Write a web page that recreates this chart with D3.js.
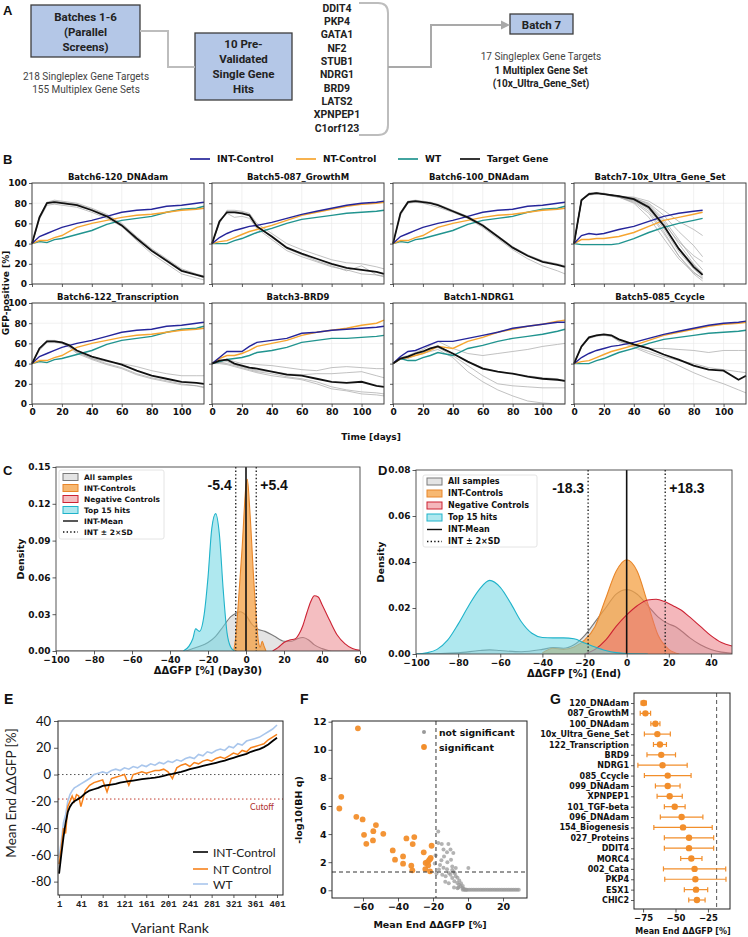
<!DOCTYPE html>
<html>
<head>
<meta charset="UTF-8">
<title>Screen overview</title>
<script src="https://d3js.org/d3.v7.min.js"></script>
<style>
  body { margin: 0; background: #fff; }
</style>
</head>
<body>
<svg id="fig" width="748" height="937"></svg>
<script>
// ---------------- panel A ----------------
var genes = ["DDIT4","PKP4","GATA1","NF2","STUB1","NDRG1","BRD9","LATS2","XPNPEP1","C1orf123"];

// ---------------- panel B ----------------
var bTitles = ["Batch6-120_DNAdam","Batch5-087_GrowthM","Batch6-100_DNAdam","Batch7-10x_Ultra_Gene_Set",
               "Batch6-122_Transcription","Batch3-BRD9","Batch1-NDRG1","Batch5-085_Ccycle"];
var bDays  = [0,5,10,15,20,25,30,40,50,60,70,80,90,100,110,115];
var b7Days = [0,5,10,15,20,25,30,40,50,60,70,80,86];

var int6 = [40,47,50,53,56,58,60,63,67,71,73,74,77,78,80,81];
var nt6  = [40,43,43,46,48,52,56,60,63,66,68,69,71,73,74,75];
var wt6  = [40,42,41,44,45,47,49,53,59,63,65,67,71,74,75,77];
var int5 = [40,46,50,53,55,57,58,61,65,69,72,75,78,80,81,82];
var nt5  = [40,42,43,46,49,52,54,58,63,68,71,74,77,79,80,81];
var wt5  = [40,40,40,43,45,48,51,55,60,64,66,68,70,71,72,73];
var int3 = [40,46,52,52,52,57,61,63,65,70,71,73,74,75,76,77];
var nt3  = [40,45,48,48,50,53,57,60,63,68,71,73,75,78,80,83];
var wt3  = [40,42,44,45,46,48,51,53,56,61,63,65,65,66,67,68];
var int1 = [40,47,52,53,56,59,62,62,65,68,71,75,77,79,81,81];
var nt1  = [40,45,46,48,50,53,57,55,62,66,71,74,77,79,82,83];
var wt1  = [40,45,43,43,46,48,51,48,55,58,62,65,67,69,72,74];
var int7 = [40,48,50,49,50,52,54,57,62,67,70,72,73];
var nt7  = [40,44,44,45,45,46,47,51,57,63,66,69,71];
var wt7  = [40,39,39,39,39,39,40,45,51,56,60,63,65];

var m120 = [40,66,80,81,80,79,78,73,67,58,45,33,23,13,9,7];
var r120 = [[40,64,78,79,78,77,76,71,65,57,43,30,20,10,6,4],
            [40,67,81,83,82,81,80,75,69,60,47,35,25,15,10,8],
            [40,65,80,82,81,80,79,74,68,59,46,34,24,14,9,6]];
var m087 = [40,62,71,71,70,68,57,47,36,30,25,20,16,14,12,10];
var r087 = [[40,60,73,73,72,70,60,50,40,34,29,24,21,20,17,15],
            [40,63,70,66,67,65,55,44,33,27,22,17,14,10,9,8],
            [40,61,72,72,71,69,58,46,35,29,23,18,13,18,9,7]];
var m100 = [40,70,81,82,81,80,78,72,66,58,47,36,28,22,19,17];
var r100 = [[40,68,80,81,80,78,76,71,65,56,45,34,25,18,13,10],
            [40,71,82,83,82,81,79,73,67,59,48,37,29,23,20,18]];
var m10x = [40,83,89,90,89,88,87,84,76,58,35,17,9];
var r10x = [[40,84,89,90,89,88,86,81,70,50,28,12,5],
            [40,83,90,90,89,88,87,83,74,55,32,15,7],
            [40,82,89,90,89,88,87,84,78,62,40,20,10],
            [40,84,89,90,89,87,86,85,80,68,52,38,27],
            [40,83,88,89,89,88,87,86,82,73,62,54,48],
            [40,82,89,90,89,88,86,82,72,52,28,10,3],
            [40,83,89,90,89,88,87,84,77,60,42,28,22],
            [40,84,90,90,90,88,86,80,66,45,25,11,6],
            [40,83,89,90,89,88,87,85,79,64,44,24,14],
            [40,82,89,90,89,87,86,83,75,57,36,19,11]];
var m122 = [40,55,62,62,61,58,53,47,43,39,33,28,25,22,21,20];
var r122 = [[40,53,61,62,60,57,51,45,42,40,37,33,30,28,28,28],
            [40,56,63,63,61,58,52,45,40,36,30,26,23,20,18,17],
            [40,55,62,61,60,56,50,44,39,35,29,25,22,19,18,16]];
var mBRD9 = [40,43,44,40,38,36,35,32,29,28,25,22,21,22,18,17];
var rBRD9 = [[40,42,44,42,40,40,39,38,36,34,33,36,37,36,35,35],
             [40,41,42,39,37,35,33,32,30,29,30,30,31,32,28,26],
             [40,40,39,37,35,33,31,28,26,24,20,15,13,10,9,8],
             [40,41,40,38,36,34,32,30,27,25,22,17,14,12,11,10]];
var mNDRG1 = [40,45,47,50,52,55,57,50,42,35,32,30,27,25,24,23];
var rNDRG1 = [[40,46,48,51,54,58,62,55,50,48,50,52,54,57,59,60],
              [40,44,45,48,50,52,54,46,32,22,14,8,3,1,0,0],
              [40,45,47,49,51,54,56,48,38,28,20,18,17,16,16,16],
              [40,45,46,50,52,55,58,50,42,36,32,30,28,26,25,22]];
var m085 = [40,57,66,68,69,68,64,59,55,49,44,38,34,33,24,28];
var r085 = [[40,56,65,67,68,67,64,58,55,55,54,53,51,53,53,53],
            [40,57,66,68,69,67,63,57,52,47,43,40,36,34,32,31],
            [40,56,65,68,68,67,62,56,50,45,38,31,25,20,14,11]];

// ---------------- panel C (Day30) ----------------
var cAllX = [-100,-32,-28,-24,-20,-16,-12,-8,-5,-3,0,3,6,10,15,20,24,27,30,33,36,40,45,60];
var cAllY = [0,0,0.002,0.004,0.007,0.012,0.02,0.028,0.031,0.032,0.029,0.022,0.018,0.016,0.012,0.008,0.008,0.01,0.011,0.009,0.005,0.002,0,0];
var cIntX = [-6.5,-5.5,-4,-2,0,0.7,2,4,5.5,6.5,7.5,8.5,9.5,10.5];
var cIntY = [0,0.01,0.04,0.085,0.135,0.14,0.115,0.06,0.025,0.008,0.003,0.008,0.004,0];
var cNegX = [14,17,20,23,26,28,30,32,34,36,38,40,44,48,52,56,60];
var cNegY = [0,0.003,0.007,0.009,0.01,0.014,0.021,0.031,0.04,0.045,0.044,0.038,0.025,0.013,0.006,0.002,0.0005];
var cTopX = [-33,-30,-28,-26.5,-24.5,-22,-20,-18,-16,-14,-12,-10,-8,-6];
var cTopY = [0,0.004,0.01,0.018,0.016,0.03,0.06,0.1,0.112,0.095,0.05,0.015,0.003,0];
var cSD = 5.4;

// ---------------- panel D (End) ----------------
var dAllX = [-100,-80,-70,-65,-60,-50,-40,-35,-30,-25,-20,-15,-10,-5,0,5,10,15,20,23,26,30,35,40,45,50];
var dAllY = [0,0.0005,0.0015,0.0018,0.0015,0.001,0.002,0.0028,0.0025,0.004,0.008,0.014,0.02,0.026,0.028,0.026,0.021,0.016,0.013,0.012,0.01,0.007,0.004,0.002,0.0008,0.0003];
var dIntX = [-40,-35,-30,-25,-20,-15,-10,-5,0,5,10,15,20,25];
var dIntY = [0.0005,0.0025,0.002,0.003,0.006,0.012,0.024,0.036,0.041,0.036,0.022,0.008,0.002,0];
var dNegX = [-20,-15,-10,-5,0,5,10,14,18,22,26,30,35,40,45,50];
var dNegY = [0,0.002,0.006,0.012,0.017,0.021,0.0235,0.0238,0.0228,0.021,0.019,0.016,0.012,0.008,0.005,0.0035];
var dTopX = [-100,-95,-90,-85,-80,-75,-70,-65,-60,-55,-50,-45,-40,-35,-30,-25,-20,-15,-10,-5,0,10];
var dTopY = [0,0.0005,0.002,0.006,0.013,0.021,0.028,0.032,0.029,0.022,0.014,0.009,0.0072,0.007,0.007,0.0066,0.0048,0.003,0.0015,0.0006,0.0002,0];
var dSD = 18.3;

// ---------------- panel E ----------------
var eRank = [1,5,9,13,17,21,25,29,33,37,41,49,57,65,73,81,89,97,105,113,121,129,137,145,153,161,169,177,185,193,
             201,209,217,225,233,241,249,257,265,273,281,289,297,305,313,321,329,337,345,353,361,369,377,385,393,401];
var eInt = [-74,-60,-47,-36,-28,-24,-21.5,-20,-19,-18,-17,-14,-12,-11,-10,-8.5,-8,-7.5,-7,-6,-5.5,
            -5,-4.5,-4,-3.5,-3,-2.7,-2.3,-1.8,-1,0,0.5,1.3,2,3,4,4.8,5.6,6.4,7.2,8,
            8.8,9.6,10.4,11.5,12.5,13.5,14.5,15.5,17,18,19,20.5,22.5,25,27.5];
var eNt  = [-67,-55,-40,-44,-24,-20,-16,-20,-15,-16,-24,-12,-8,-6,-5,-4,-13,-3,-2,-1,0,
            -8,0,1,2,1,2,3,3,4,2,-3,5,7,8,6,9,8,10,11,10,
            12,13,12,14,16,15,18,17,20,21,22,23,26,28,30];
var eWt  = [-62,-50,-36,-30,-20,-15,-12,-10,-9,-8,-7,-5,-3,0,1,2,1,3,4,3,5,
            4,6,5,7,6,8,7,9,8,10,9,11,10,12,13,12,15,14,17,16,
            18,19,18,21,20,23,22,25,26,27,28,30,32,34,37];
var eCutoff = -18.3;

// ---------------- panel F ----------------
var fSigX = [-62.9,-72.4,-73.5,-63.8,-60.2,-59.4,-58.1,-54.1,-54.3,-52.6,-48.4,-43.0,-41.7,-37.1,-37.1,
             -35.2,-30.7,-31.6,-32.4,-31.8,-25.3,-24.4,-24.2,-23.2,-22.3,-21.7,-21.3,-20.8,-21.7,-22.7];
var fSigY = [11.53,6.65,5.82,5.23,5.04,3.95,3.31,4.21,3.55,4.64,4.02,2.84,2.18,2.41,1.89,
             3.69,3.79,3.29,1.75,1.42,2.70,1.51,1.94,2.01,2.13,2.22,2.30,3.17,1.35,1.78];
var fNsX = [-17,-17,-15,-11.2,-8.4,-15.2,-13.7,-11.8,-9.7,-9,-7,0.2,-16.6,-14.7,-12.8,-10.9,-9,-7.8,-7,-6.1,
            -5.1,-4.2,-3.2,-2.3,-18,-16,-14,-12,-10,-13,-11,-8,-6,-5,-4,-3,-12,-10,-14,-8,-6,-18.5,-19,-9,-7.5,-5.5,-2,-1,
            -3,-2,-1,0,1,2,3,4,5,6,7,8,9,10,11,12,13,14,15,16,17,18,19,20,21,22,23,24,25,26,27,28,29];
var fNsY = [4.19,3.36,3.3,3.29,2.65,2.13,2.4,1.99,2.18,1.7,1.59,1.59,1.47,1.11,1.0,1.23,0.88,0.64,1.0,0.52,
            0.4,0.28,0.17,0.09,1.2,1.8,1.6,1.5,1.1,0.6,0.5,1.3,0.9,0.7,0.5,0.3,2.7,2.9,2.9,0.2,0.15,2.5,1.9,1.45,1.2,0.2,0.05,0.04,
            0.03,0.03,0.03,0.03,0.03,0.03,0.03,0.03,0.03,0.03,0.03,0.03,0.03,0.03,0.03,0.03,0.03,0.03,0.03,0.03,0.03,0.03,0.03,0.03,0.03,0.03,0.03,0.03,0.03,0.03,0.03,0.03,0.03];
var fQline = 1.3;

// ---------------- panel G ----------------
var gLabels = ["120_DNAdam","087_GrowthM","100_DNAdam","10x_Ultra_Gene_Set","122_Transcription","BRD9","NDRG1",
               "085_Ccycle","099_DNAdam","XPNPEP1","101_TGF-beta","096_DNAdam","154_Biogenesis","027_Proteins",
               "DDIT4","MORC4","002_Cata","PKP4","ESX1","CHIC2"];
var gMean = [-74.5,-73.2,-65.5,-64,-62,-61,-60,-56,-56,-54.5,-50.6,-45.3,-44.2,-39.6,-39.6,-37.8,-35.3,-34.7,-34.2,-33.5];
var gErr  = [2,4,3.5,10,5,11,19,18,9.5,9.7,8,16.4,22.5,19,19,8.2,24,23.6,9,6.3];

// ======================================================
var svg = d3.select("#fig");
var DJ = "DejaVu Sans";

function txt(g, x, y, s, o) {
  o = o || {};
  return g.append("text").attr("x", x).attr("y", y).text(s)
    .attr("font-size", o.size || 9)
    .attr("font-weight", o.weight || "bold")
    .attr("font-family", o.family || DJ)
    .attr("text-anchor", o.anchor || "start")
    .attr("fill", o.fill || "#111")
    .attr("dominant-baseline", o.base || "auto");
}
function vtxt(g, x, y, s, o) {
  return txt(g, 0, 0, s, o).attr("text-anchor", "middle")
    .attr("transform", "translate(" + x + "," + y + ") rotate(-90)");
}
function styleAxis(sel, size, fam, weight, fill) {
  sel.select(".domain").remove();
  sel.selectAll("line").attr("stroke", "#333").attr("stroke-width", 0.8);
  sel.selectAll("text").attr("font-size", size).attr("font-family", fam || DJ)
    .attr("font-weight", weight || "bold").attr("fill", fill || "#111");
}
function frame(g, l, t, r, b, col, w) {
  g.append("rect").attr("x", l).attr("y", t).attr("width", r - l).attr("height", b - t)
    .attr("fill", "none").attr("stroke", col || "#333").attr("stroke-width", w || 0.9);
}

// ---------------- A ----------------
var gA = svg.append("g");
txt(gA, 3, 15, "A", {size: 13, family: "Liberation Sans"});
var RB = "Roboto";
function box(x, y, w, h) {
  gA.append("rect").attr("x", x).attr("y", y).attr("width", w).attr("height", h)
    .attr("fill", "#b4c7e7").attr("stroke", "#3d3d3d").attr("stroke-width", 1.3);
}
function aLabel(x, y, s, size, weight, fill) {
  return txt(gA, x, y, s, {size: size, family: RB, weight: weight, anchor: "middle", base: "central", fill: fill || "#222"});
}
box(31, 5, 109, 52);
box(195, 33, 97, 67);
box(510, 14, 63, 20);
["Batches 1-6", "(Parallel", "Screens)"].forEach(function(s, i) { aLabel(85.5, 17 + i * 15, s, 11.5, "bold"); });
["10 Pre-", "Validated", "Single Gene", "Hits"].forEach(function(s, i) { aLabel(243.5, 44 + i * 15, s, 11.5, "bold"); });
aLabel(541.5, 24.5, "Batch 7", 11.5, "bold");
aLabel(86, 76, "218 Singleplex Gene Targets", 10, "normal", "#444");
aLabel(86, 89, "155 Multiplex Gene Sets", 10, "normal", "#444");
aLabel(541, 56, "17 Singleplex Gene Targets", 10, "normal", "#444");
aLabel(541, 70, "1 Multiplex Gene Set", 10, "bold");
aLabel(541, 83, "(10x_Ultra_Gene_Set)", 10, "bold");
var gy = d3.scalePoint().domain(genes).range([8, 128]);
genes.forEach(function(s) { aLabel(337, gy(s), s, 10.5, "bold"); });
var conn = "#bdbdbd";
gA.append("path").attr("d", "M140,31 H168 V67 H195").attr("fill", "none").attr("stroke", conn).attr("stroke-width", 2);
gA.append("path").attr("d", "M359,3 H378 Q388,3 388,13 V125 Q388,135 378,135 H359")
  .attr("fill", "none").attr("stroke", conn).attr("stroke-width", 2);
gA.append("path").attr("d", "M388,67 H431 V25 H503").attr("fill", "none").attr("stroke", "#a9a9a9").attr("stroke-width", 2);
gA.append("path").attr("d", "M510,25 L501,20.5 L501,29.5 Z").attr("fill", "#a9a9a9");

// ---------------- B ----------------
var gB = svg.append("g");
txt(gB, 3, 164, "B", {size: 13, family: "Liberation Sans"});
var colInt = "#25259a", colNt = "#f6a530", colWt = "#21948f";
var bLeg = [["INT-Control", colInt, 190], ["NT-Control", colNt, 296], ["WT", colWt, 398], ["Target Gene", "#111", 460]];
bLeg.forEach(function(l) {
  gB.append("line").attr("x1", l[2]).attr("x2", l[2] + 20).attr("y1", 159).attr("y2", 159)
    .attr("stroke", l[1]).attr("stroke-width", 1.7);
  txt(gB, l[2] + 27, 159, l[0], {size: 9, base: "central"});
});
var bPanels = [
  {d: bDays,  c: [int6, nt6, wt6], m: m120,   r: r120},
  {d: bDays,  c: [int5, nt5, wt5], m: m087,   r: r087},
  {d: bDays,  c: [int6, nt6, wt6], m: m100,   r: r100},
  {d: b7Days, c: [int7, nt7, wt7], m: m10x,   r: r10x},
  {d: bDays,  c: [int6, nt6, wt6], m: m122,   r: r122},
  {d: bDays,  c: [int3, nt3, wt3], m: mBRD9,  r: rBRD9},
  {d: bDays,  c: [int1, nt1, wt1], m: mNDRG1, r: rNDRG1},
  {d: bDays,  c: [int5, nt5, wt5], m: m085,   r: r085}
];
var bCols = [32, 212, 393, 574], bRows = [183, 303], bW = 172, bH = 101;
var bTicks = [0, 20, 40, 60, 80, 100];
bPanels.forEach(function(p, i) {
  var col = i % 4, row = Math.floor(i / 4);
  var l = bCols[col], t = bRows[row];
  var x = d3.scaleLinear().domain([0, 115]).range([l, l + bW]);
  var y = d3.scaleLinear().domain([0, 100]).range([t + bH, t]);
  var g = gB.append("g");
  g.selectAll(".gx").data(bTicks).enter().append("line")
    .attr("x1", d => x(d)).attr("x2", d => x(d)).attr("y1", t).attr("y2", t + bH)
    .attr("stroke", "#e8e8e8").attr("stroke-width", 0.6);
  g.selectAll(".gy").data(bTicks).enter().append("line")
    .attr("x1", l).attr("x2", l + bW).attr("y1", d => y(d)).attr("y2", d => y(d))
    .attr("stroke", "#e8e8e8").attr("stroke-width", 0.6);
  var line = d3.line().x((v, j) => x(p.d[j])).y(v => y(v));
  p.r.forEach(function(s) {
    g.append("path").attr("d", line(s)).attr("fill", "none").attr("stroke", "#9e9e9e")
      .attr("stroke-width", 0.8).attr("stroke-opacity", 0.8);
  });
  [colWt, colNt, colInt].forEach(function(c, k) {
    g.append("path").attr("d", line(p.c[2 - k])).attr("fill", "none").attr("stroke", c).attr("stroke-width", 1.4);
  });
  g.append("path").attr("d", line(p.m)).attr("fill", "none").attr("stroke", "#111").attr("stroke-width", 1.8);
  frame(g, l, t, l + bW, t + bH, "#444", 1);
  var ax = g.append("g").attr("transform", "translate(0," + (t + bH) + ")")
    .call(d3.axisBottom(x).tickValues(bTicks).tickSize(3).tickPadding(2)
      .tickFormat(row === 1 ? d3.format("d") : ""));
  styleAxis(ax, 9);
  var ay = g.append("g").attr("transform", "translate(" + l + ",0)")
    .call(d3.axisLeft(y).tickValues(bTicks).tickSize(3).tickPadding(2)
      .tickFormat(col === 0 ? d3.format("d") : ""));
  styleAxis(ay, 9);
  txt(g, l + bW / 2, t - 3.5, bTitles[i], {size: 8.5, anchor: "middle"});
});
vtxt(gB, 9, 293, "GFP-positive [%]", {size: 9});
txt(gB, 371, 440, "Time [days]", {size: 9, anchor: "middle"});

// ---------------- C & D ----------------
function densityPanel(o) {
  var g = svg.append("g");
  var x = d3.scaleLinear().domain(o.xDomain).range([o.l, o.r]);
  var y = d3.scaleLinear().domain([0, o.yMax]).range([o.b, o.t]);
  g.append("clipPath").attr("id", "clip" + o.id).append("rect")
    .attr("x", o.l).attr("y", o.t).attr("width", o.r - o.l).attr("height", o.b - o.t);
  var body = g.append("g").attr("clip-path", "url(#clip" + o.id + ")");
  var area = d3.area().curve(d3.curveMonotoneX).x(d => x(d[0])).y0(y(0)).y1(d => y(d[1]));
  var line = d3.line().curve(d3.curveMonotoneX).x(d => x(d[0])).y(d => y(d[1]));
  o.series.forEach(function(s) {
    var pts = d3.zip(s.x, s.y);
    body.append("path").attr("d", area(pts)).attr("fill", s.fill).attr("fill-opacity", s.op);
    body.append("path").attr("d", line(pts)).attr("fill", "none").attr("stroke", s.stroke).attr("stroke-width", 1.1);
  });
  g.append("line").attr("x1", x(0)).attr("x2", x(0)).attr("y1", o.t).attr("y2", o.b)
    .attr("stroke", "#111").attr("stroke-width", 1.6);
  [-o.sd, o.sd].forEach(function(v) {
    g.append("line").attr("x1", x(v)).attr("x2", x(v)).attr("y1", o.t).attr("y2", o.b)
      .attr("stroke", "#222").attr("stroke-width", 1.4).attr("stroke-dasharray", "1.4,2.2");
  });
  txt(g, x(-o.sd) - 4, o.labY, "-" + o.sd, {size: 14, family: "Liberation Sans", weight: "bold", anchor: "end", base: "central", fill: "#111"});
  txt(g, x(o.sd) + 4, o.labY, "+" + o.sd, {size: 14, family: "Liberation Sans", weight: "bold", base: "central", fill: "#111"});
  frame(g, o.l, o.t, o.r, o.b, "#444", 0.9);
  var ax = g.append("g").attr("transform", "translate(0," + o.b + ")")
    .call(d3.axisBottom(x).tickValues(o.xTicks).tickSize(3.5).tickPadding(2).tickFormat(d3.format("d")));
  styleAxis(ax, 9);
  var ay = g.append("g").attr("transform", "translate(" + o.l + ",0)")
    .call(d3.axisLeft(y).tickValues(o.yTicks).tickSize(3.5).tickPadding(2).tickFormat(d3.format(".2f")));
  styleAxis(ay, 9);
  txt(g, (o.l + o.r) / 2, o.b + 23, o.xLabel, {size: 10, anchor: "middle"});
  vtxt(g, o.l - 32, (o.t + o.b) / 2, "Density", {size: 9.5});
  // legend
  var lg = o.leg;
  g.append("rect").attr("x", lg.x).attr("y", lg.y).attr("width", lg.w).attr("height", lg.h).attr("rx", 2)
    .attr("fill", "#fff").attr("fill-opacity", 0.85).attr("stroke", "#ddd").attr("stroke-width", 0.8);
  var items = o.series.map(function(s) { return {name: s.name, s: s}; })
    .concat([{name: "INT-Mean", line: ""}, {name: "INT \u00b1 2\u00d7SD", line: "1.4,2.2"}]);
  items.forEach(function(it, k) {
    var yy = lg.y + lg.r0 + k * lg.dy;
    if (it.s) {
      g.append("rect").attr("x", lg.x + 4).attr("y", yy - 3.5).attr("width", 15).attr("height", 7)
        .attr("fill", it.s.fill).attr("fill-opacity", it.s.op).attr("stroke", it.s.stroke).attr("stroke-width", 1);
    } else {
      g.append("line").attr("x1", lg.x + 4).attr("x2", lg.x + 19).attr("y1", yy).attr("y2", yy)
        .attr("stroke", "#111").attr("stroke-width", 1.4).attr("stroke-dasharray", it.line);
    }
    txt(g, lg.x + 25, yy, it.name, {size: lg.fs, base: "central"});
  });
}
function ser(name, xs, ys, fill, op, stroke) {
  return {name: name, x: xs, y: ys, fill: fill, op: op, stroke: stroke};
}
txt(svg, 3, 475, "C", {size: 13, family: "Liberation Sans"});
densityPanel({
  id: "C", l: 56, r: 360, t: 467, b: 651, xDomain: [-100, 60], yMax: 0.15,
  xTicks: [-100, -80, -60, -40, -20, 0, 20, 40, 60], yTicks: [0, 0.03, 0.06, 0.09, 0.12, 0.15],
  sd: cSD, labY: 485, xLabel: "\u0394\u0394GFP [%] (Day30)",
  series: [
    ser("All samples", cAllX, cAllY, "#c9c9c9", 0.5, "#7a7a7a"),
    ser("INT-Controls", cIntX, cIntY, "#f4a043", 0.75, "#e8862a"),
    ser("Negative Controls", cNegX, cNegY, "#ea7d84", 0.5, "#cc2233"),
    ser("Top 15 hits", cTopX, cTopY, "#6dd6e2", 0.55, "#1fb3ca")
  ],
  leg: {x: 59, y: 470, w: 105, h: 69, r0: 7, dy: 11, fs: 7.5}
});
txt(svg, 378, 475, "D", {size: 13, family: "Liberation Sans"});
densityPanel({
  id: "D", l: 416, r: 732, t: 470, b: 654, xDomain: [-100, 50], yMax: 0.08,
  xTicks: [-100, -80, -60, -40, -20, 0, 20, 40], yTicks: [0, 0.02, 0.04, 0.06, 0.08],
  sd: dSD, labY: 488, xLabel: "\u0394\u0394GFP [%] (End)",
  series: [
    ser("All samples", dAllX, dAllY, "#c9c9c9", 0.5, "#7a7a7a"),
    ser("INT-Controls", dIntX, dIntY, "#f4a043", 0.75, "#e8862a"),
    ser("Negative Controls", dNegX, dNegY, "#ea6f78", 0.5, "#cc2233"),
    ser("Top 15 hits", dTopX, dTopY, "#6dd6e2", 0.55, "#1fb3ca")
  ],
  leg: {x: 423, y: 475, w: 114, h: 72, r0: 6.5, dy: 12, fs: 8}
});

// ---------------- E ----------------
var gE = svg.append("g");
txt(gE, 4, 704, "E", {size: 14, family: "Liberation Sans"});
var ex = d3.scaleLinear().domain([-1, 412]).range([58, 283]);
var ey = d3.scaleLinear().domain([-90, 40]).range([895, 721]);
[[0, "#555"], [eCutoff, "#c0392b"]].forEach(function(h) {
  gE.append("line").attr("x1", ex(-1)).attr("x2", ex(412)).attr("y1", ey(h[0])).attr("y2", ey(h[0]))
    .attr("stroke", h[1]).attr("stroke-width", 1).attr("stroke-dasharray", "1.5,2.5");
});
txt(gE, 262, 810, "Cutoff", {size: 8.5, family: "Lato", weight: "normal", anchor: "middle", fill: "#b03030"});
var eLine = d3.line().x((v, j) => ex(eRank[j])).y(v => ey(v));
gE.append("path").attr("d", eLine(eWt)).attr("fill", "none").attr("stroke", "#a9c6ec").attr("stroke-width", 1.6);
gE.append("path").attr("d", eLine(eNt)).attr("fill", "none").attr("stroke", "#f7821c").attr("stroke-width", 1.5);
gE.append("path").attr("d", eLine(eInt)).attr("fill", "none").attr("stroke", "#000").attr("stroke-width", 1.8);
frame(gE, 58, 721, 283, 895, "#222", 1);
var eax = gE.append("g").attr("transform", "translate(0,895)")
  .call(d3.axisBottom(ex).tickValues([1, 41, 81, 121, 161, 201, 241, 281, 321, 361, 401]).tickSize(3).tickPadding(3));
styleAxis(eax, 9, "Liberation Mono", "bold", "#222");
var eay = gE.append("g").attr("transform", "translate(58,0)")
  .call(d3.axisLeft(ey).tickValues([40, 20, 0, -20, -40, -60, -80]).tickSize(4).tickPadding(3).tickFormat(d => String(d)));
styleAxis(eay, 13, "Lato", "normal", "#111");
vtxt(gE, 16, 793, "Mean End \u0394\u0394GFP [%]", {size: 13.5, family: "Lato", weight: "normal", fill: "#222"});
txt(gE, 170, 933, "Variant Rank", {size: 14, family: "Lato", weight: "normal", anchor: "middle", fill: "#222"});
[["INT-Control", "#000", 852], ["NT Control", "#f7821c", 869], ["WT", "#a9c6ec", 884]].forEach(function(l) {
  gE.append("line").attr("x1", 193).attr("x2", 208).attr("y1", l[2]).attr("y2", l[2]).attr("stroke", l[1]).attr("stroke-width", 1.6);
  txt(gE, 213, l[2], l[0], {size: 12, family: "Lato", weight: "normal", base: "central", fill: "#222"});
});

// ---------------- F ----------------
var gF = svg.append("g");
txt(gF, 300, 704, "F", {size: 14, family: "Liberation Sans"});
var fx = d3.scaleLinear().domain([-77.7, 33.7]).range([332, 527]);
var fy = d3.scaleLinear().domain([-0.55, 12.05]).range([898, 721]);
gF.selectAll(".ns").data(d3.zip(fNsX, fNsY)).enter().append("circle")
  .attr("cx", d => fx(d[0])).attr("cy", d => fy(d[1])).attr("r", 2)
  .attr("fill", "#999").attr("fill-opacity", 0.75);
gF.selectAll(".sg").data(d3.zip(fSigX, fSigY)).enter().append("circle")
  .attr("cx", d => fx(d[0])).attr("cy", d => fy(d[1])).attr("r", 2.9)
  .attr("fill", "#f28e2b").attr("fill-opacity", 0.95);
gF.append("line").attr("x1", fx(eCutoff)).attr("x2", fx(eCutoff)).attr("y1", 721).attr("y2", 898)
  .attr("stroke", "#333").attr("stroke-width", 1).attr("stroke-dasharray", "4,3");
gF.append("line").attr("x1", 332).attr("x2", 527).attr("y1", fy(fQline)).attr("y2", fy(fQline))
  .attr("stroke", "#333").attr("stroke-width", 1).attr("stroke-dasharray", "4,3");
frame(gF, 332, 721, 527, 898, "#222", 1);
var fax = gF.append("g").attr("transform", "translate(0,898)")
  .call(d3.axisBottom(fx).tickValues([-60, -40, -20, 0, 20]).tickSize(3.5).tickPadding(2).tickFormat(d3.format("d")));
styleAxis(fax, 9.5);
var fay = gF.append("g").attr("transform", "translate(332,0)")
  .call(d3.axisLeft(fy).tickValues([0, 2, 4, 6, 8, 10, 12]).tickSize(3.5).tickPadding(2).tickFormat(d3.format("d")));
styleAxis(fay, 9.5);
vtxt(gF, 302, 810, "-log10(BH q)", {size: 9.5});
txt(gF, 430, 928, "Mean End \u0394\u0394GFP [%]", {size: 9.5, anchor: "middle"});
gF.append("circle").attr("cx", 424).attr("cy", 732).attr("r", 2).attr("fill", "#999");
txt(gF, 439, 732, "not significant", {size: 9.3, base: "central"});
gF.append("circle").attr("cx", 424).attr("cy", 747).attr("r", 2.9).attr("fill", "#f28e2b");
txt(gF, 439, 747, "significant", {size: 9.3, base: "central"});

// ---------------- G ----------------
var gG = svg.append("g");
txt(gG, 550, 704, "G", {size: 14, family: "Liberation Sans"});
var gx = d3.scaleLinear().domain([-82, -8]).range([634, 730]);
var gyS = d3.scalePoint().domain(gLabels).range([703, 900]);
gG.append("line").attr("x1", gx(eCutoff)).attr("x2", gx(eCutoff)).attr("y1", 693).attr("y2", 909)
  .attr("stroke", "#555").attr("stroke-width", 1).attr("stroke-dasharray", "4,3");
gLabels.forEach(function(lab, i) {
  var yy = gyS(lab), m = gMean[i], e = gErr[i];
  var c = "#f28e2b";
  gG.append("line").attr("x1", gx(m - e)).attr("x2", gx(Math.min(m + e, -8))).attr("y1", yy).attr("y2", yy)
    .attr("stroke", c).attr("stroke-width", 1.2);
  [m - e, m + e].forEach(function(v) {
    if (v > -8) return;
    gG.append("line").attr("x1", gx(v)).attr("x2", gx(v)).attr("y1", yy - 2.5).attr("y2", yy + 2.5)
      .attr("stroke", c).attr("stroke-width", 1.2);
  });
  gG.append("circle").attr("cx", gx(m)).attr("cy", yy).attr("r", 3.2).attr("fill", c);
});
frame(gG, 634, 693, 730, 909, "#222", 1);
var gax = gG.append("g").attr("transform", "translate(0,909)")
  .call(d3.axisBottom(gx).tickValues([-75, -50, -25]).tickSize(3.5).tickPadding(2).tickFormat(d3.format("d")));
styleAxis(gax, 8.5);
var gay = gG.append("g").attr("transform", "translate(634,0)")
  .call(d3.axisLeft(gyS).tickSize(3).tickPadding(2));
styleAxis(gay, 8);
txt(gG, 683, 934, "Mean End \u0394\u0394GFP [%]", {size: 8, anchor: "middle"});
</script>
</body>
</html>
